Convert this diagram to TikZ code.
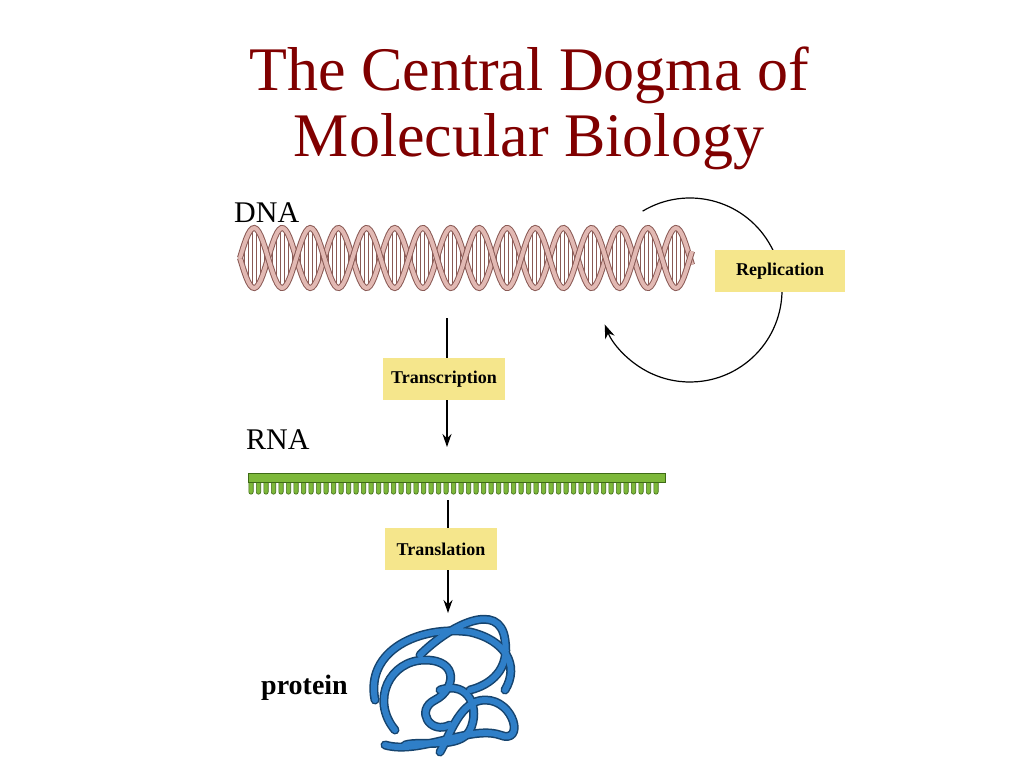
\documentclass[tikz,border=0pt]{standalone}
\usepackage{fontspec}
\setmainfont{Liberation Serif}
\usetikzlibrary{arrows.meta}
\definecolor{titlered}{HTML}{800000}
\definecolor{boxyel}{HTML}{F5E68C}
\definecolor{dnapink}{HTML}{E2B9B3}
\definecolor{dnadark}{HTML}{8A5A55}
\definecolor{rnagreen}{HTML}{7DB83A}
\definecolor{rnadark}{HTML}{3E6B16}
\definecolor{protblue}{HTML}{2F7FC8}
\definecolor{protdark}{HTML}{16446E}
\begin{document}
\begin{tikzpicture}[x=1pt,y=-1pt,
  procbox/.style={fill=boxyel,inner sep=0pt,font=\fontsize{18}{20}\selectfont\bfseries},
  lbl/.style={anchor=west,inner sep=0pt,font=\fontsize{30}{32}\selectfont},
  flow/.style={-{Stealth[length=13pt,width=9pt]},line width=1.2pt},
  ptube/.style={draw=protdark,line width=9pt,line cap=round,line join=round},
  ptubein/.style={draw=protblue,line width=6pt,line cap=round,line join=round}]
\useasboundingbox (0,0) rectangle (1024,768);
\fill[white] (0,0) rectangle (1024,768);
% title
\node[text=titlered,font=\fontsize{62}{66}\selectfont,align=center] (title) at (529,108)
  {The Central Dogma of\\Molecular Biology};
% DNA
\node[lbl] (dnal) at (234,213) {DNA};
\foreach \x in {244,248,...,690} {
  \draw[dnadark,line width=0.5pt] (\x,{258+28*sin((\x-240)*6.4)}) -- (\x,{258-28*sin((\x-240)*6.4)});
}
\foreach \ph in {0,180} {
  \draw[dnadark,line width=6pt,domain=240:692,samples=220] plot (\x,{258+30*sin((\x-240)*6.4+\ph)});
  \draw[dnapink,line width=4pt,domain=240:692,samples=220] plot (\x,{258+30*sin((\x-240)*6.4+\ph)});
}
\coordinate (dnab) at (447,318);
% replication
\draw[-{Stealth[length=14pt,width=10pt]},line width=1.2pt] (690,290) ++(-121:92) arc[start angle=-121,end angle=158,radius=92];
\node[procbox,minimum width=130pt,minimum height=42pt] (rep) at (780,271) {Replication};
% transcription
\node[procbox,minimum width=122pt,minimum height=42pt] (tr) at (444,379) {Transcription};
\coordinate (rnat) at (447,447);
\draw[line width=1.2pt] (dnab) -- (tr.north-|dnab);
\draw[flow] (tr.south-|dnab) -- (rnat);
% RNA
\node[lbl] (rnal) at (246,440) {RNA};
\foreach \x in {251,258.5,...,662} {
  \draw[rnadark,fill=rnagreen,line width=0.6pt] (\x-2.2,481) -- (\x-2.2,492) arc[start angle=180,end angle=0,radius=2.2] -- (\x+2.2,481);
}
\draw[rnadark,fill=rnagreen,line width=0.8pt] (248,473) rectangle (665,482);
\coordinate (rnab) at (448,500);
% translation
\node[procbox,minimum width=112pt,minimum height=42pt] (tl) at (441,549) {Translation};
\draw[line width=1.2pt] (rnab) -- (tl.north-|rnab);
\coordinate (prot) at (448,613);
\draw[flow] (tl.south-|rnab) -- (prot);
% protein
\node[lbl,font=\fontsize{28}{30}\selectfont\bfseries] (protl) at (261,688) {protein};
\foreach \s in {ptube,ptubein}{
  \draw[\s] (375,700) .. controls (365,650) and (420,625) .. (470,632)
     .. controls (505,640) and (520,665) .. (505,690);
  \draw[\s] (420,655) .. controls (450,625) and (500,600) .. (505,640)
     .. controls (510,670) and (490,685) .. (470,690);
  \draw[\s] (395,730) .. controls (370,700) and (390,660) .. (425,660)
     .. controls (460,660) and (455,690) .. (435,700)
     .. controls (415,710) and (430,735) .. (450,725);
  \draw[\s] (385,745) .. controls (420,755) and (470,725) .. (500,735)
     .. controls (525,745) and (515,700) .. (485,700)
     .. controls (460,700) and (450,735) .. (440,752);
  \draw[\s] (440,690) .. controls (470,680) and (480,710) .. (470,730)
     .. controls (460,750) and (420,740) .. (405,745);
}
\end{tikzpicture}
\end{document}
